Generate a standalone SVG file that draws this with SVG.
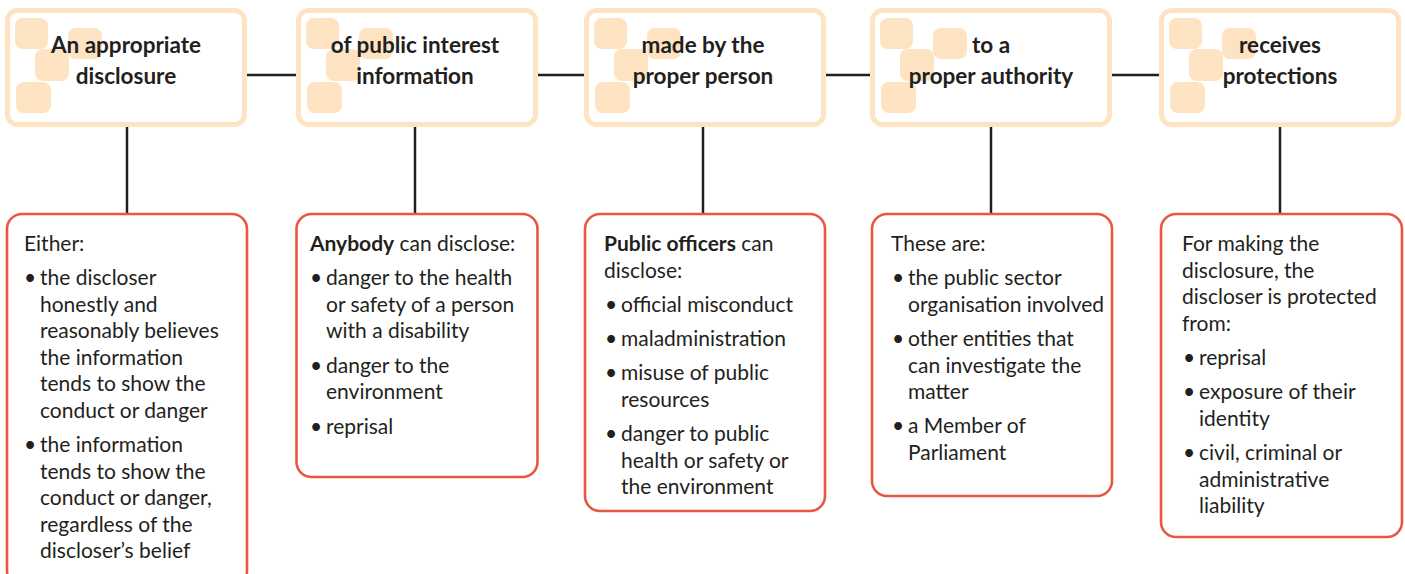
<svg xmlns="http://www.w3.org/2000/svg" width="1405" height="574" viewBox="0 0 1405 574">
<style>
.top{fill:#fff;stroke:#FDE3C2;stroke-width:5}
.bot{fill:#fff;stroke:#E8573F;stroke-width:2.6}
.sq{fill:#FDE3C2}
.ttl{font-family:Lato,"Liberation Sans",sans-serif;font-weight:bold;font-size:22.5px;fill:#231F20;text-anchor:middle}
.txt{font-family:Lato,"Liberation Sans",sans-serif;font-size:21px;fill:#231F20}
.b{font-weight:bold}
.ln{stroke:#231F20;stroke-width:2.5;fill:none}
</style>
<defs>
<g id="deco">
<rect class="sq" x="10" y="18" width="33" height="31" rx="8"/>
<rect class="sq" x="63" y="28" width="34" height="31" rx="8"/>
<rect class="sq" x="30" y="49" width="34" height="32" rx="8"/>
<rect class="sq" x="11" y="82" width="35" height="31" rx="8"/>
</g>
</defs>
<g id="connectors">
<line class="ln" x1="247" y1="75" x2="296" y2="75"/>
<line class="ln" x1="538" y1="75" x2="584" y2="75"/>
<line class="ln" x1="826" y1="75" x2="870" y2="75"/>
<line class="ln" x1="1112" y1="75" x2="1159" y2="75"/>
<line class="ln" x1="127" y1="127" x2="127" y2="214"/>
<line class="ln" x1="415" y1="127" x2="415" y2="214"/>
<line class="ln" x1="703" y1="127" x2="703" y2="214"/>
<line class="ln" x1="991" y1="127" x2="991" y2="214"/>
<line class="ln" x1="1280" y1="127" x2="1280" y2="214"/>
</g>
<g id="top1">
<rect class="top" x="7.5" y="10.5" width="237" height="114" rx="10"/>
<use href="#deco" x="5"/>
<text class="ttl" x="126" y="53">An appropriate</text>
<text class="ttl" x="126" y="84">disclosure</text>
</g>
<g id="top2">
<rect class="top" x="298.5" y="10.5" width="237" height="114" rx="10"/>
<use href="#deco" x="296"/>
<text class="ttl" x="415" y="53">of public interest</text>
<text class="ttl" x="415" y="84">information</text>
</g>
<g id="top3">
<rect class="top" x="586.5" y="10.5" width="237" height="114" rx="10"/>
<use href="#deco" x="584"/>
<text class="ttl" x="703" y="53">made by the</text>
<text class="ttl" x="703" y="84">proper person</text>
</g>
<g id="top4">
<rect class="top" x="872.5" y="10.5" width="237" height="114" rx="10"/>
<use href="#deco" x="870"/>
<text class="ttl" x="991" y="53">to a</text>
<text class="ttl" x="991" y="84">proper authority</text>
</g>
<g id="top5">
<rect class="top" x="1161.5" y="10.5" width="237" height="114" rx="10"/>
<use href="#deco" x="1159"/>
<text class="ttl" x="1280" y="53">receives</text>
<text class="ttl" x="1280" y="84">protections</text>
</g>
<g id="box1">
<rect class="bot" x="7" y="214" width="240" height="372" rx="15"/>
<text class="txt" x="24" y="251">Either:</text>
<text class="txt" x="24" y="285">•</text>
<text class="txt" x="40" y="285">the discloser</text>
<text class="txt" x="40" y="311.5">honestly and</text>
<text class="txt" x="40" y="338">reasonably believes</text>
<text class="txt" x="40" y="364.5">the information</text>
<text class="txt" x="40" y="391">tends to show the</text>
<text class="txt" x="40" y="417.5">conduct or danger</text>
<text class="txt" x="24" y="452">•</text>
<text class="txt" x="40" y="452">the information</text>
<text class="txt" x="40" y="478.5">tends to show the</text>
<text class="txt" x="40" y="505">conduct or danger,</text>
<text class="txt" x="40" y="531.5">regardless of the</text>
<text class="txt" x="40" y="558">discloser’s belief</text>
</g>
<g id="box2">
<rect class="bot" x="296.5" y="214" width="241" height="263" rx="15"/>
<text class="txt" x="310" y="251"><tspan class="b">Anybody</tspan> can disclose:</text>
<text class="txt" x="310" y="285">•</text>
<text class="txt" x="326" y="285">danger to the health</text>
<text class="txt" x="326" y="311.5">or safety of a person</text>
<text class="txt" x="326" y="338">with a disability</text>
<text class="txt" x="310" y="372.5">•</text>
<text class="txt" x="326" y="372.5">danger to the</text>
<text class="txt" x="326" y="399">environment</text>
<text class="txt" x="310" y="433.5">•</text>
<text class="txt" x="326" y="433.5">reprisal</text>
</g>
<g id="box3">
<rect class="bot" x="585" y="214" width="240" height="297" rx="15"/>
<text class="txt" x="604" y="251"><tspan class="b">Public officers</tspan> can</text>
<text class="txt" x="604" y="277.5">disclose:</text>
<text class="txt" x="605" y="312">•</text>
<text class="txt" x="621" y="312">official misconduct</text>
<text class="txt" x="605" y="346">•</text>
<text class="txt" x="621" y="346">maladministration</text>
<text class="txt" x="605" y="380">•</text>
<text class="txt" x="621" y="380">misuse of public</text>
<text class="txt" x="621" y="406.5">resources</text>
<text class="txt" x="605" y="441">•</text>
<text class="txt" x="621" y="441">danger to public</text>
<text class="txt" x="621" y="467.5">health or safety or</text>
<text class="txt" x="621" y="494">the environment</text>
</g>
<g id="box4">
<rect class="bot" x="872" y="214" width="240" height="282" rx="15"/>
<text class="txt" x="891" y="251">These are:</text>
<text class="txt" x="892" y="285">•</text>
<text class="txt" x="908" y="285">the public sector</text>
<text class="txt" x="908" y="311.5">organisation involved</text>
<text class="txt" x="892" y="346">•</text>
<text class="txt" x="908" y="346">other entities that</text>
<text class="txt" x="908" y="372.5">can investigate the</text>
<text class="txt" x="908" y="399">matter</text>
<text class="txt" x="892" y="433">•</text>
<text class="txt" x="908" y="433">a Member of</text>
<text class="txt" x="908" y="459.5">Parliament</text>
</g>
<g id="box5">
<rect class="bot" x="1161" y="214" width="241" height="323" rx="15"/>
<text class="txt" x="1182" y="251">For making the</text>
<text class="txt" x="1182" y="277.5">disclosure, the</text>
<text class="txt" x="1182" y="304">discloser is protected</text>
<text class="txt" x="1182" y="330.5">from:</text>
<text class="txt" x="1183" y="365">•</text>
<text class="txt" x="1199" y="365">reprisal</text>
<text class="txt" x="1183" y="399">•</text>
<text class="txt" x="1199" y="399">exposure of their</text>
<text class="txt" x="1199" y="425.5">identity</text>
<text class="txt" x="1183" y="460">•</text>
<text class="txt" x="1199" y="460">civil, criminal or</text>
<text class="txt" x="1199" y="486.5">administrative</text>
<text class="txt" x="1199" y="513">liability</text>
</g>
</svg>
